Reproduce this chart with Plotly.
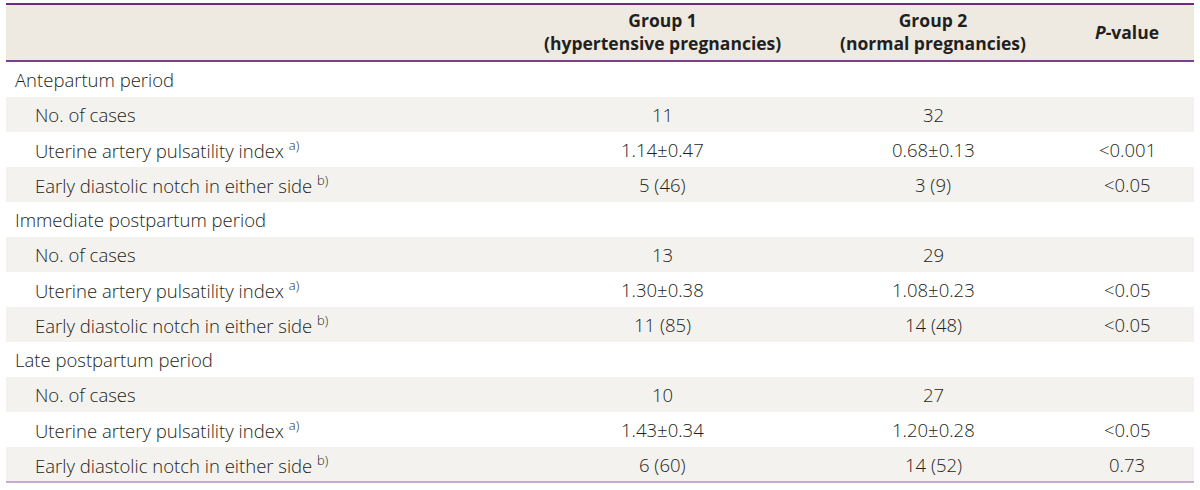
import plotly.graph_objects as go

# ---- data ----
header = ["", "Group 1<br>(hypertensive pregnancies)", "Group 2<br>(normal pregnancies)", "<i>P</i>-value"]
row_labels = [
    "Antepartum period",
    "No. of cases",
    "Uterine artery pulsatility index",
    "Early diastolic notch in either side",
    "Immediate postpartum period",
    "No. of cases",
    "Uterine artery pulsatility index",
    "Early diastolic notch in either side",
    "Late postpartum period",
    "No. of cases",
    "Uterine artery pulsatility index",
    "Early diastolic notch in either side",
]
row_notes = ["", "", "a)", "b)", "", "", "a)", "b)", "", "", "a)", "b)"]
is_section = [True, False, False, False, True, False, False, False, True, False, False, False]
group1 = ["", "11", "1.14±0.47", "5 (46)", "", "13", "1.30±0.38", "11 (85)", "", "10", "1.43±0.34", "6 (60)"]
group2 = ["", "32", "0.68±0.13", "3 (9)", "", "29", "1.08±0.23", "14 (48)", "", "27", "1.20±0.28", "14 (52)"]
pvalue = ["", "", "<0.001", "<0.05", "", "", "<0.05", "<0.05", "", "", "<0.05", "0.73"]

# ---- layout constants ----
W, H = 1200, 490
X0, X1 = 6, 1194
TOP, HEAD_BOT = 4, 61
ROW_H = 35
col_x = [None, 662, 933, 1127]
FONT = "Open Sans"
TXT = "#231f20"
HEAD_BG = "#eeeae2"
STRIPE = "#f4f2ee"
BODY_SIZE = 18.5

fig = go.Figure()
shapes = []
annotations = []

shapes.append(dict(type="rect", xref="x", yref="y", x0=X0, x1=X1, y0=TOP, y1=HEAD_BOT,
                   fillcolor=HEAD_BG, line=dict(width=0), layer="below"))
for i in range(len(row_labels)):
    y0 = HEAD_BOT + 1 + i * ROW_H
    if i % 2 == 1:
        shapes.append(dict(type="rect", xref="x", yref="y", x0=X0, x1=X1, y0=y0, y1=y0 + ROW_H,
                           fillcolor=STRIPE, line=dict(width=0), layer="below"))
shapes.append(dict(type="line", xref="x", yref="y", x0=X0, x1=X1, y0=TOP, y1=TOP,
                   line=dict(color="#6a2f7c", width=2)))
shapes.append(dict(type="line", xref="x", yref="y", x0=X0, x1=X1, y0=HEAD_BOT, y1=HEAD_BOT,
                   line=dict(color="#7d3f8f", width=2)))
bot = HEAD_BOT + 1 + len(row_labels) * ROW_H
shapes.append(dict(type="line", xref="x", yref="y", x0=X0, x1=X1, y0=bot, y1=bot,
                   line=dict(color="#b690c4", width=1.5)))

for j in range(1, 4):
    annotations.append(dict(x=col_x[j], y=(TOP + HEAD_BOT) / 2 - 1, xref="x", yref="y",
                            text="<b>" + header[j] + "</b>", showarrow=False,
                            xanchor="center", yanchor="middle",
                            font=dict(family=FONT, size=17.5, color=TXT, weight=600)))

for i, lab in enumerate(row_labels):
    yc = HEAD_BOT + 1 + i * ROW_H + ROW_H / 2
    txt = lab
    if row_notes[i]:
        txt += " <sup>" + row_notes[i] + "</sup>"
    annotations.append(dict(x=13 if is_section[i] else 33, y=yc, xref="x", yref="y",
                            text=txt, showarrow=False, xanchor="left", yanchor="middle",
                            font=dict(family=FONT, size=BODY_SIZE, color=TXT, weight=300)))
    for j, vals in ((1, group1), (2, group2), (3, pvalue)):
        if vals[i]:
            annotations.append(dict(x=col_x[j], y=yc, xref="x", yref="y", text=vals[i],
                                    showarrow=False, xanchor="center", yanchor="middle",
                                    font=dict(family=FONT, size=BODY_SIZE, color=TXT, weight=300)))

fig.update_layout(
    width=W, height=H, margin=dict(l=0, r=0, t=0, b=0),
    paper_bgcolor="white", plot_bgcolor="white",
    xaxis=dict(range=[0, W], visible=False, fixedrange=True),
    yaxis=dict(range=[H, 0], visible=False, fixedrange=True),
    shapes=shapes, annotations=annotations, showlegend=False,
)
fig.write_html("out.html", config={"displayModeBar": False},
               post_script="document.body.style.margin='0px';")
